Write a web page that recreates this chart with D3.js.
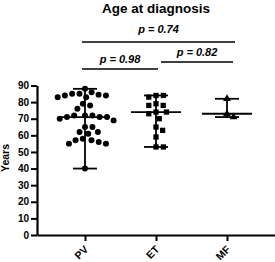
<!DOCTYPE html>
<html><head><meta charset="utf-8">
<script src="https://cdn.jsdelivr.net/npm/d3@7"></script>
<style>
html,body{margin:0;padding:0;background:#fff;}
svg{display:block;font-family:"Liberation Sans",Arial,sans-serif;}
</style></head>
<body>
<svg id="c" width="275" height="262"></svg>
<script>
const title = "Age at diagnosis";
const yLabel = "Years";
const categories = ["PV", "ET", "MF"];
const yTicks = [0,10,20,30,40,50,60,70,80,90];
const pvValues = [88, 85, 84.5, 84, 83, 83, 84, 85, 86, 79, 78, 76, 72, 72, 71, 70, 69, 71, 72, 71, 65, 65, 62, 61, 62, 58, 57, 55, 55, 56, 57, 40];
const etValues = [84, 83, 84, 78, 79, 78, 74, 73, 74, 70, 65, 63, 59, 53, 53];
const mfValues = [82, 71, 73];
const seriesValues = [pvValues, etValues, mfValues];
const symbols = [d3.symbolCircle, d3.symbolSquare, d3.symbolTriangle];
const compFrom = ["PV", "PV", "ET"];
const compTo = ["MF", "ET", "MF"];
const compP = ["0.74", "0.98", "0.82"];

const svg = d3.select("#c");
const x = d3.scalePoint().domain(categories).range([37, 275]).padding(0.676);
const y = d3.scaleLinear().domain([0, 90]).range([235, 85.5]);

// axes
const yAxis = svg.append("g").attr("transform", "translate(37,0)")
  .call(d3.axisLeft(y).tickValues(yTicks).tickSize(6).tickSizeOuter(0).tickPadding(2));
const xAxis = svg.append("g").attr("transform", "translate(0,235)")
  .call(d3.axisBottom(x).tickSize(6).tickSizeOuter(0).tickFormat(() => ""));
[yAxis, xAxis].forEach(g => {
  g.select(".domain").attr("stroke", "#000").attr("stroke-width", 2.2);
  g.selectAll(".tick line").attr("stroke", "#000").attr("stroke-width", 2);
});
yAxis.selectAll(".tick text").attr("font-size", 10).attr("font-weight", "bold").attr("fill", "#000");
svg.append("g").selectAll("text").data(categories).enter().append("text")
  .attr("transform", d => `translate(${x(d) + 4},${250}) rotate(-45)`)
  .attr("text-anchor", "end").attr("fill", "#000")
  .attr("font-size", 10.5).attr("font-weight", "bold")
  .text(d => d);

svg.append("text").attr("transform", "translate(9,158) rotate(-90)")
  .attr("text-anchor", "middle").attr("font-size", 10.5).attr("font-weight", "bold")
  .text(yLabel);

svg.append("text").attr("x", 156).attr("y", 12.5).attr("text-anchor", "middle")
  .attr("font-size", 13.5).attr("font-weight", "bold").text(title);

// beeswarm
const R = 3.7;
function swarm(vals) {
  const pts = vals.map((v, i) => ({v, y: y(v), i})).sort((a, b) => b.v - a.v);
  const placed = [];
  pts.forEach(p => {
    const blocks = [];
    placed.forEach(q => {
      const dy = Math.abs(q.y - p.y);
      if (dy < 2 * R) { const w = Math.sqrt(4 * R * R - dy * dy); blocks.push([q.dx - w, q.dx + w]); }
    });
    const cands = [0];
    blocks.forEach(b => { cands.push(b[0], b[1]); });
    cands.sort((a, b) => Math.abs(a) - Math.abs(b) || b - a);
    let best = 0;
    for (const c of cands) {
      if (blocks.every(b => c <= b[0] + 1e-6 || c >= b[1] - 1e-6)) { best = c; break; }
    }
    p.dx = best;
    placed.push(p);
  });
  return placed;
}

categories.forEach((cat, ci) => {
  const vals = seriesValues[ci];
  const cx = x(cat);
  const g = svg.append("g");
  const pts = swarm(vals);
  const sym = d3.symbol().type(symbols[ci]).size(ci === 2 ? 26 : 28);
  g.selectAll("path.pt").data(pts).enter().append("path")
    .attr("class", "pt")
    .attr("transform", d => `translate(${cx + d.dx},${d.y})`)
    .attr("d", sym).attr("fill", "#000");
  const med = d3.median(vals), mn = d3.min(vals), mx = d3.max(vals);
  const L = g.append("g").attr("stroke", "#000").attr("stroke-width", 1.8);
  L.append("line").attr("x1", cx).attr("x2", cx).attr("y1", y(mx)).attr("y2", y(mn));
  L.append("line").attr("x1", cx - 25).attr("x2", cx + 25).attr("y1", y(med)).attr("y2", y(med));
  [mx, mn].forEach(v => L.append("line").attr("x1", cx - 12).attr("x2", cx + 12).attr("y1", y(v)).attr("y2", y(v)));
});

// significance brackets
const levels = [42, 69, 62];
const textY = [33, 62.5, 55.5];
compP.forEach((p, i) => {
  const x1 = x(compFrom[i]) - 3, x2 = x(compTo[i]) + (compTo[i] === "MF" ? (compFrom[i] === "PV" ? 8 : 6) : 2);
  const xa = compFrom[i] === "ET" ? x1 + 8 : x1;
  svg.append("line").attr("x1", xa).attr("x2", x2).attr("y1", levels[i]).attr("y2", levels[i])
    .attr("stroke", "#000").attr("stroke-width", 1.6);
  svg.append("text").attr("x", (xa + x2) / 2).attr("y", textY[i]).attr("text-anchor", "middle")
    .attr("font-size", 11).attr("font-weight", "bold").attr("font-style", "italic")
    .text("p = " + p);
});
</script>
</body></html>
